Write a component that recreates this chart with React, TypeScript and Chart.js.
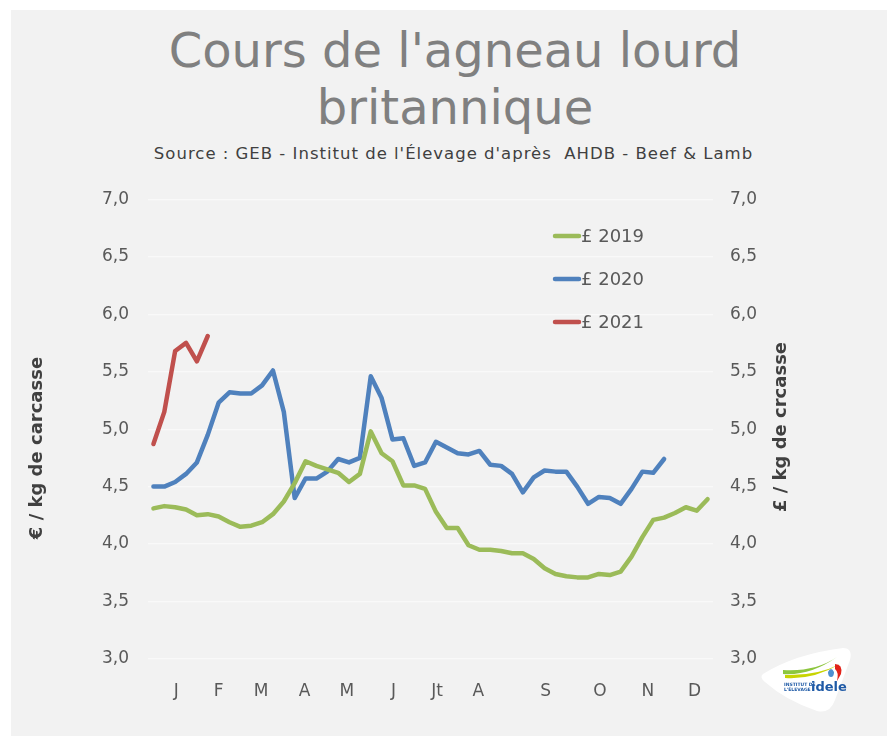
import React, { useEffect, useRef } from "react";
import { Chart, registerables } from "chart.js";

Chart.register(...registerables);

// ---- Data ----
const monthLabels = ["J", "F", "M", "A", "M", "J", "Jt", "A", "S", "O", "N", "D"];
const monthPositions = [2.1, 6, 9.9, 13.9, 17.8, 22.1, 26.1, 29.9, 36.1, 41.1, 45.5, 49.8];

const price2019 = [
  4.31, 4.33, 4.32, 4.3, 4.25, 4.26, 4.24, 4.19, 4.15, 4.16,
  4.19, 4.26, 4.37, 4.53, 4.72, 4.68, 4.65, 4.62, 4.54, 4.61,
  4.98, 4.79, 4.72, 4.51, 4.51, 4.48, 4.28, 4.14, 4.14, 3.99,
  3.95, 3.95, 3.94, 3.92, 3.92, 3.87, 3.79, 3.74, 3.72, 3.71,
  3.71, 3.74, 3.73, 3.76, 3.89, 4.06, 4.21, 4.23, 4.27, 4.32,
  4.29, 4.39,
];
const price2020 = [
  4.5, 4.5, 4.54, 4.61, 4.71, 4.95, 5.23, 5.32, 5.31, 5.31,
  5.38, 5.51, 5.15, 4.4, 4.57, 4.57, 4.63, 4.74, 4.71, 4.75,
  5.46, 5.27, 4.91, 4.92, 4.68, 4.71, 4.89, 4.84, 4.79, 4.78,
  4.81, 4.69, 4.68, 4.61, 4.45, 4.58, 4.64, 4.63, 4.63, 4.5,
  4.35, 4.41, 4.4, 4.35, 4.48, 4.63, 4.62, 4.74,
];
const price2021 = [4.87, 5.15, 5.68, 5.75, 5.59, 5.81];

const seriesLabels = ["£ 2019", "£ 2020", "£ 2021"];
const seriesColors = ["#9bbb59", "#4f81bd", "#c0504d"];

const yMin = 3;
const yMax = 7;
const yStep = 0.5;

const titleLines = ["Cours de l'agneau lourd", "britannique"];
const subtitleText = "Source : GEB - Institut de l'Élevage d'après  AHDB - Beef & Lamb";
const leftAxisTitle = "€ / kg de carcasse";
const rightAxisTitle = "£ / kg de crcasse";

const FONT = "'DejaVu Sans', sans-serif";
const CANVAS_TOP = 170;

const toPoints = (arr: number[]) => arr.map((v, i) => ({ x: i, y: v }));
const fmt = (v: number) => v.toFixed(1).replace(".", ",");

const overlayPlugin = {
  id: "overlay",
  afterDraw(chart: any) {
    const ctx = chart.ctx as CanvasRenderingContext2D;
    ctx.save();
    // legend
    const legendY = [236, 279, 322];
    seriesLabels.forEach((label, i) => {
      const y = legendY[i] - CANVAS_TOP;
      ctx.strokeStyle = seriesColors[i];
      ctx.lineWidth = 4.5;
      ctx.lineCap = "round";
      ctx.beginPath();
      ctx.moveTo(555, y);
      ctx.lineTo(579, y);
      ctx.stroke();
      ctx.fillStyle = "#595959";
      ctx.font = `18px ${FONT}`;
      ctx.textAlign = "left";
      ctx.textBaseline = "middle";
      ctx.fillText(label, 581, y + 1);
    });
    // axis titles
    ctx.fillStyle = "#404040";
    ctx.font = `bold 18px ${FONT}`;
    ctx.textAlign = "center";
    ctx.textBaseline = "middle";
    ctx.save();
    ctx.translate(37, 448 - CANVAS_TOP);
    ctx.rotate(-Math.PI / 2);
    ctx.fillText(leftAxisTitle, 0, 0);
    ctx.restore();
    ctx.save();
    ctx.translate(781, 427 - CANVAS_TOP);
    ctx.rotate(-Math.PI / 2);
    ctx.fillText(rightAxisTitle, 0, 0);
    ctx.restore();
    ctx.restore();
  },
};

function ChartCanvas() {
  const ref = useRef<HTMLCanvasElement | null>(null);
  useEffect(() => {
    if (!ref.current) return;
    const tickFont = { family: FONT, size: 17 };
    const chart = new Chart(ref.current, {
      type: "line",
      data: {
        datasets: [
          { label: seriesLabels[0], data: toPoints(price2019), borderColor: seriesColors[0], yAxisID: "y" },
          { label: seriesLabels[1], data: toPoints(price2020), borderColor: seriesColors[1], yAxisID: "y" },
          { label: seriesLabels[2], data: toPoints(price2021), borderColor: seriesColors[2], yAxisID: "y" },
        ].map((d) => ({
          ...d,
          borderWidth: 4.5,
          pointRadius: 0,
          tension: 0,
          fill: false,
          borderCapStyle: "round" as const,
          borderJoinStyle: "round" as const,
        })),
      },
      options: {
        animation: false,
        responsive: false,
        devicePixelRatio: 1,
        layout: { padding: { top: 25, left: 0, right: 0, bottom: 0 } },
        plugins: { legend: { display: false }, tooltip: { enabled: false }, title: { display: false } },
        scales: {
          x: {
            type: "linear",
            min: -0.5,
            max: 51.5,
            afterBuildTicks: (scale: any) => {
              scale.ticks = monthPositions.map((v) => ({ value: v }));
            },
            afterFit: (scale: any) => {
              scale.height = 77;
            },
            grid: { display: false, drawTicks: false },
            border: { display: false },
            ticks: {
              autoSkip: false,
              maxRotation: 0,
              padding: 22,
              color: "#595959",
              font: tickFont,
              callback: (_v: any, i: number) => monthLabels[i],
            },
          },
          y: {
            position: "left",
            min: yMin,
            max: yMax,
            afterFit: (scale: any) => {
              scale.width = 148;
            },
            grid: { color: "#f9f9f9", lineWidth: 1.2, drawTicks: false },
            border: { display: false },
            ticks: { stepSize: yStep, padding: 19, color: "#595959", font: tickFont, callback: (v: any) => fmt(Number(v)) },
          },
          y2: {
            position: "right",
            min: yMin,
            max: yMax,
            afterFit: (scale: any) => {
              scale.width = 174;
            },
            grid: { display: false, drawTicks: false },
            border: { display: false },
            ticks: { stepSize: yStep, padding: 17, color: "#595959", font: tickFont, callback: (v: any) => fmt(Number(v)) },
          },
        },
      },
      plugins: [overlayPlugin],
    });
    return () => chart.destroy();
  }, []);
  return (
    <canvas
      ref={ref}
      width={887}
      height={566}
      style={{ position: "absolute", left: 0, top: CANVAS_TOP, width: 887, height: 566 }}
    />
  );
}

function Logo() {
  return (
    <svg width={110} height={80} viewBox="0 0 110 80" style={{ position: "absolute", left: 755, top: 642 }}>
      <path
        d="M8 32 Q40 12 88 6 Q98 6 95 18 L80 58 Q75 72 62 69 Q30 58 10 40 Q4 35 8 32 Z"
        fill="#ffffff"
      />
      <path d="M28 32 Q55 34 82 15 Q60 30 28 28 Z" fill="#8cc63e" />
      <path d="M30 36 Q58 38 85 22 Q62 34 30 33 Z" fill="#c8d400" />
      <path d="M73 30 Q76 24 79 30 Q79 35 76 35 Q73 35 73 30 Z" fill="#4f8fd0" />
      <path d="M80 22 Q88 22 86 32 L82 39 Q84 30 80 27 Z" fill="#e2231a" />
      <text x={29} y={44} fontSize={4.5} fontFamily="DejaVu Sans" fontWeight="bold" fill="#1f5aa6">INSTITUT DE</text>
      <text x={29} y={49} fontSize={4.5} fontFamily="DejaVu Sans" fontWeight="bold" fill="#1f5aa6">L'ÉLEVAGE</text>
      <text x={56} y={49} fontSize={13} fontFamily="DejaVu Sans" fontWeight="bold" fill="#1f5aa6">idele</text>
    </svg>
  );
}

export default function App() {
  return (
    <div style={{ position: "absolute", left: 0, top: 0, width: 887, height: 736, background: "#ffffff", overflow: "hidden" }}>
      <div style={{ position: "absolute", left: 11, top: 10, right: 0, bottom: 0, background: "#f2f2f2" }} />
      <div
        style={{
          position: "absolute",
          left: 0,
          width: 910,
          top: 22,
          textAlign: "center",
          fontFamily: FONT,
          fontSize: 48,
          lineHeight: "57px",
          color: "#808080",
          whiteSpace: "nowrap",
        }}
      >
        <div>{titleLines[0]}</div>
        <div>{titleLines[1]}</div>
      </div>
      <div
        style={{
          position: "absolute",
          left: 0,
          width: 907,
          top: 144,
          textAlign: "center",
          fontFamily: FONT,
          fontSize: 16.5,
          letterSpacing: "1px",
          lineHeight: "20px",
          color: "#404040",
          whiteSpace: "pre",
        }}
      >
        {subtitleText}
      </div>
      <ChartCanvas />
      <Logo />
    </div>
  );
}
